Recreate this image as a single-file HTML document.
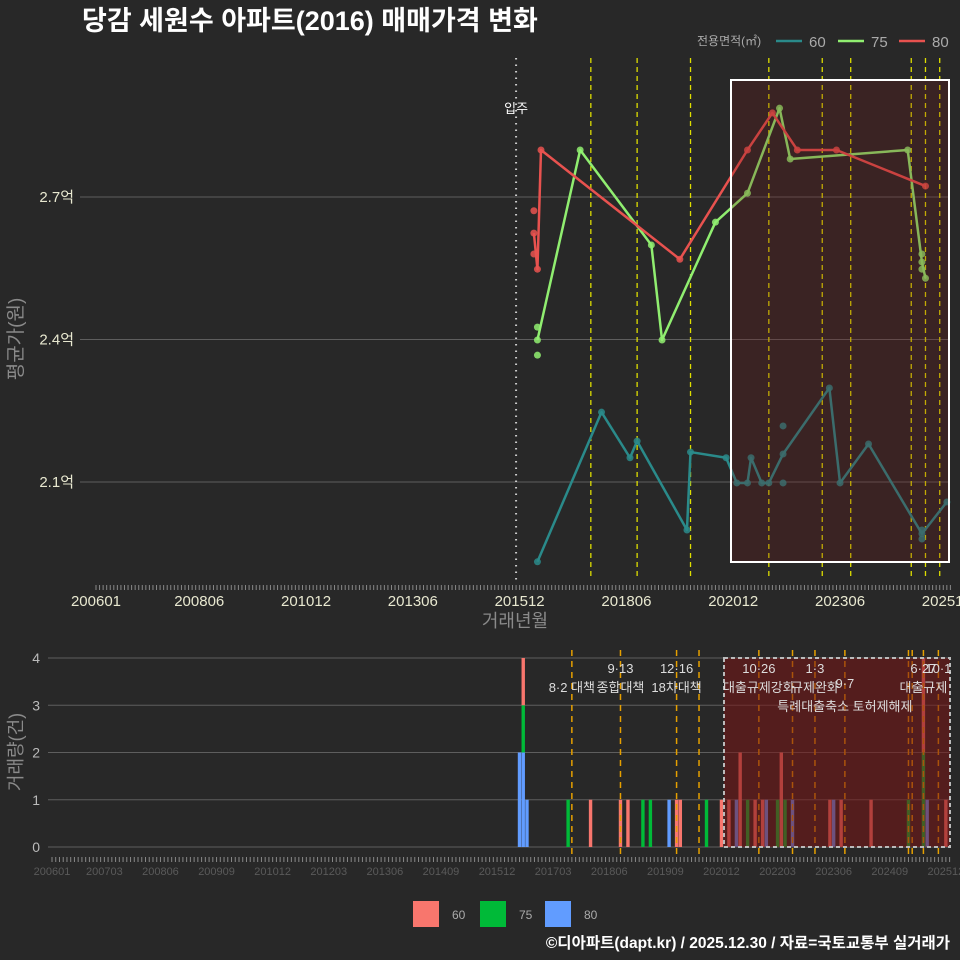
<!DOCTYPE html>
<html><head><meta charset="utf-8">
<style>
html,body{margin:0;padding:0;background:#282828;}
svg{display:block;font-family:"Liberation Sans","Noto Sans CJK KR",sans-serif;}
</style></head>
<body>
<svg id="c" width="960" height="960" viewBox="0 0 960 960" xmlns="http://www.w3.org/2000/svg">
<rect x="0" y="0" width="960" height="960" fill="#282828"/>
<text x="82" y="30" fill="#ffffff" font-size="27" font-weight="bold">당감 세원수 아파트(2016) 매매가격 변화</text>
<g id="legendTop">
<text x="697" y="45" fill="#aaaaaa" font-size="12">전용면적(㎡)</text>
<line x1="776" y1="41" x2="802" y2="41" stroke="#2a8a8a" stroke-width="2.5"/>
<text x="809" y="47" fill="#aaaaaa" font-size="15">60</text>
<line x1="838" y1="41" x2="864" y2="41" stroke="#90ee70" stroke-width="2.5"/>
<text x="871" y="47" fill="#aaaaaa" font-size="15">75</text>
<line x1="899" y1="41" x2="925" y2="41" stroke="#e8524f" stroke-width="2.5"/>
<text x="932" y="47" fill="#aaaaaa" font-size="15">80</text>
</g>
<g id="gtop"></g>
<g id="gbot"></g>
<text x="22" y="339" fill="#8a8a8a" font-size="19" text-anchor="middle" transform="rotate(-90 22 339)">평균가(원)</text>
<text x="515" y="627" fill="#8a8a8a" font-size="18" text-anchor="middle">거래년월</text>
<text x="22" y="752" fill="#8a8a8a" font-size="18" text-anchor="middle" transform="rotate(-90 22 752)">거래량(건)</text>
<g>
<rect x="413" y="901" width="26" height="26" fill="#f8766d"/>
<text x="452" y="919" fill="#aaaaaa" font-size="12">60</text>
<rect x="480" y="901" width="26" height="26" fill="#00ba38"/>
<text x="519" y="919" fill="#aaaaaa" font-size="12">75</text>
<rect x="545" y="901" width="26" height="26" fill="#619cff"/>
<text x="584" y="919" fill="#aaaaaa" font-size="12">80</text>
</g>
<text x="950" y="948" fill="#ffffff" font-size="15.5" font-weight="bold" text-anchor="end">©디아파트(dapt.kr) / 2025.12.30 / 자료=국토교통부 실거래가</text>
</svg>
<script>
// ---- data: top price chart ----
const yTicksTop = [2.1, 2.4, 2.7];
const yTickLabelsTop = ["2.1억", "2.4억", "2.7억"];
const xTickMonthsTop = ["200601","200806","201012","201306","201512","201806","202012","202306","202512"];
const months60 = ["201605","201711","201807","201809","201911","201912","202010","202101","202104","202105","202108","202110","202202","202303","202306","202402","202505","202512"];
const values60 = [1.932,2.247,2.151,2.186,1.999,2.163,2.151,2.098,2.098,2.151,2.098,2.098,2.159,2.298,2.098,2.18,1.991,2.058];
const extraMonths60 = ["202202","202202","202505","202505"];
const extraValues60 = [2.218,2.098,1.999,1.98];
const months75 = ["201605","201705","201901","201904","202007","202104","202201","202204","202501","202505","202506"];
const values75 = [2.399,2.799,2.599,2.399,2.647,2.708,2.887,2.78,2.799,2.563,2.529];
const extraMonths75 = ["201605","201605","202505","202505"];
const extraValues75 = [2.426,2.367,2.58,2.548];
const months80 = ["201604","201605","201606","201909","202104","202111","202206","202305","202506"];
const values80 = [2.624,2.548,2.799,2.569,2.799,2.877,2.799,2.799,2.723];
const extraMonths80 = ["201604","201604"];
const extraValues80 = [2.671,2.58];
const policyTop = ["201708","201809","201912","202110","202301","202309","202502","202506","202510"];
const moveInMonth = ["201511"];
// ---- data: bottom volume chart ----
const yTicksBot = [0,1,2,3,4];
const xTickMonthsBot = ["200601","200703","200806","200909","201012","201203","201306","201409","201512","201703","201806","201909","202012","202203","202306","202409","202512"];
const barMonths = ["201606","201607","201608","201707","201801","201809","201811","201903","201905","201910","201912","202001","202008","202012","202102","202104","202105","202107","202109","202111","202112","202203","202204","202205","202207","202305","202306","202308","202404","202502","202506","202507","202512"];
const cnt60 = [0,1,0,0,1,1,1,0,0,0,1,1,0,1,1,0,2,0,1,1,0,0,2,0,0,1,0,1,1,0,2,0,1];
const cnt75 = [0,1,0,1,0,0,0,1,1,0,0,0,1,0,0,0,0,1,0,0,0,1,0,1,0,0,0,0,0,1,2,0,0];
const cnt80 = [2,2,1,0,0,0,0,0,0,1,0,0,0,0,0,1,0,0,0,0,1,0,0,0,1,0,1,0,0,0,0,1,0];
const policyBot = ["201708","201809","201912","202006","202110","202207","202301","202309","202502","202503","202506","202510"];
const annoMonths = ["201708","201809","201809","201912","201912","202110","202110","202301","202301","202309","202309","202506","202510","202506"];
const annoRows = [1,0,1,0,1,0,1,0,1,0.8,2,0,0,1];
const annoTexts = ["8·2 대책","9·13","종합대책","12·16","18차대책","10·26","대출규제강화","1·3","규제완화","9·7","특례대출축소 토허제해제","6·27","10·1","대출규제"];

const NS="http://www.w3.org/2000/svg";
function mi(s){return (parseInt(s.slice(0,4))-2006)*12+parseInt(s.slice(4,6))-1;}
function xTop(s){return 96+mi(s)*3.56;}
function yTop(v){return 197+(2.7-v)*475;}
function xBot(s){return 52+mi(s)*3.74;}
function yBot(c){return 847-c*47.25;}
function el(tag,attrs,parent){const e=document.createElementNS(NS,tag);for(const k in attrs)e.setAttribute(k,attrs[k]);parent.appendChild(e);return e;}
const gTop=document.getElementById('gtop'), gBot=document.getElementById('gbot');

yTicksTop.forEach((v,i)=>{
  const g=el('line',{x1:80,x2:950,y1:yTop(v),y2:yTop(v),stroke:'#5e5e5e','stroke-width':1},gTop);
  
  
  const t=el('text',{x:74,y:yTop(v)+5,fill:'#e8e8d0','font-size':15,'text-anchor':'end'},gTop);
  t.textContent=yTickLabelsTop[i];
  
  
});
for(let m=0;m<=240;m++){
  const x=96+m*3.56;
  const tk=el('line',{x1:x,x2:x,y1:585,y2:590,stroke:'#888','stroke-width':1},gTop);
  
  
}
xTickMonthsTop.forEach(s=>{
  const t=el('text',{x:xTop(s),y:606,fill:'#e8e8d0','font-size':15,'text-anchor':'middle'},gTop);
  t.textContent=s;
  
  
});
moveInMonth.forEach(s=>{
  const l=el('line',{x1:xTop(s),x2:xTop(s),y1:58,y2:580,stroke:'#cccccc','stroke-width':2,'stroke-dasharray':'1.5 5'},gTop);
  
  
  const t=el('text',{x:xTop(s),y:113,fill:'#ffffff','font-size':13,'text-anchor':'middle'},gTop);
  t.textContent='입주';
  
  
});
policyTop.forEach(s=>{
  const l=el('line',{x1:xTop(s),x2:xTop(s),y1:58,y2:580,stroke:'#dede00','stroke-width':1.3,'stroke-dasharray':'5 4'},gTop);
  
  
});
function series(months,vals,exM,exV,color,name){
  const pts=months.map((s,i)=>xTop(s)+','+yTop(vals[i])).join(' ');
  const p=el('polyline',{points:pts,fill:'none',stroke:color,'stroke-width':2.5,'stroke-linejoin':'round'},gTop);
  
  
  months.forEach((s,i)=>{
    const c=el('circle',{cx:xTop(s),cy:yTop(vals[i]),r:3.5,fill:color,opacity:0.85},gTop);
    
    
  });
  exM.forEach((s,i)=>{
    const c=el('circle',{cx:xTop(s),cy:yTop(exV[i]),r:3.5,fill:color,opacity:0.85},gTop);
    
    
  });
}
series(months60,values60,extraMonths60,extraValues60,'#2a8a8a','60');
series(months75,values75,extraMonths75,extraValues75,'#90ee70','75');
series(months80,values80,extraMonths80,extraValues80,'#e8524f','80');
const box=el('rect',{x:731,y:80,width:218,height:482,fill:'rgba(110,20,20,0.25)',stroke:'#ffffff','stroke-width':2},gTop);



yTicksBot.forEach(v=>{
  const g=el('line',{x1:48,x2:950,y1:yBot(v),y2:yBot(v),stroke:'#5e5e5e','stroke-width':1},gBot);
  
  
  const t=el('text',{x:40,y:yBot(v)+5,fill:'#bbbbbb','font-size':14,'text-anchor':'end'},gBot);
  t.textContent=v;
  
  
});
for(let m=0;m<=240;m++){
  const x=52+m*3.74;
  const tk=el('line',{x1:x,x2:x,y1:857,y2:862,stroke:'#888','stroke-width':1},gBot);
  
  
}
xTickMonthsBot.forEach(s=>{
  const t=el('text',{x:xBot(s),y:875,fill:'#5a5a5a','font-size':11,'text-anchor':'middle'},gBot);
  t.textContent=s;
  
  
});
barMonths.forEach((s,i)=>{
  const x=xBot(s)-1.7;
  let base=0;
  [[cnt80[i],'#619cff','80'],[cnt75[i],'#00ba38','75'],[cnt60[i],'#f8766d','60']].forEach(([c,col,n])=>{
    if(c>0){
      const r=el('rect',{x:x,y:yBot(base+c),width:3.4,height:yBot(base)-yBot(base+c),fill:col},gBot);
      
      
      base+=c;
    }
  });
});
policyBot.forEach(s=>{
  const l=el('line',{x1:xBot(s),x2:xBot(s),y1:650,y2:855,stroke:'#e6a000','stroke-width':1.5,'stroke-dasharray':'6 5'},gBot);
  
  
});
const bbox=el('rect',{x:724,y:658,width:226,height:189,fill:'rgba(120,20,20,0.55)',stroke:'#bbbbbb','stroke-width':2,'stroke-dasharray':'4 3'},gBot);


annoMonths.forEach((s,i)=>{
  const t=el('text',{x:xBot(s),y:673+annoRows[i]*19,fill:'#dddddd','font-size':13,'text-anchor':'middle'},gBot);
  t.textContent=annoTexts[i];
  
  
});
</script>
</body></html>
